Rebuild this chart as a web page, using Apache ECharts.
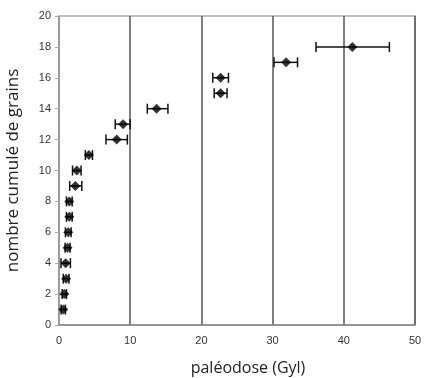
<!DOCTYPE html>
<html>
<head>
<meta charset="utf-8">
<script src="https://cdn.jsdelivr.net/npm/echarts@6/dist/echarts.min.js"></script>
<style>
  html, body { margin: 0; padding: 0; background: #fff; }
  #chart { width: 424px; height: 378px; }
</style>
</head>
<body>
<div id="chart"></div>
<script>
// cumulative grain count (y) vs paleodose (x), with error bounds
const grains = [1, 2, 3, 4, 5, 6, 7, 8, 9, 10, 11, 12, 13, 14, 15, 16, 17, 18];
const dose   = [0.6, 0.75, 1.0, 0.93, 1.2, 1.3, 1.45, 1.45, 2.3, 2.5, 4.2, 8.1, 9.0, 13.7, 22.7, 22.7, 31.9, 41.2];
const doseLo = [0.3, 0.45, 0.6, 0.28, 0.85, 0.9, 1.05, 1.05, 1.5, 1.9, 3.7, 6.6, 7.9, 12.4, 21.8, 21.6, 30.2, 36.1];
const doseHi = [0.9, 1.05, 1.4, 1.6, 1.55, 1.7, 1.85, 1.85, 3.2, 3.1, 4.7, 9.6, 10.0, 15.3, 23.6, 23.8, 33.5, 46.4];
const xTicks = [0, 10, 20, 30, 40, 50];
const yTicks = [0, 2, 4, 6, 8, 10, 12, 14, 16, 18, 20];

const chart = echarts.init(document.getElementById('chart'));

const points = grains.map((g, i) => [dose[i], g]);
const bars = grains.map((g, i) => [dose[i], g, doseLo[i], doseHi[i]]);

const fontFam = 'Liberation Sans, Arial, sans-serif';

const option = {
    animation: false,
    backgroundColor: '#fff',
    grid: {
        left: 59, right: 9, top: 16, bottom: 53,
        containLabel: false,
        outerBoundsMode: 'none',
        show: true,
        borderColor: '#aaa',
        borderWidth: 1.5,
        backgroundColor: 'transparent'
    },
    xAxis: {
        type: 'value',
        min: xTicks[0],
        max: xTicks[xTicks.length - 1],
        interval: 10,
        name: 'paléodose (Gyl)',
        nameLocation: 'middle',
        nameGap: 35,
        nameTextStyle: { fontFamily: 'Open Sans, Noto Sans, sans-serif', fontSize: 16, color: '#222', padding: [0, 0, 0, 22] },
        axisLine: { lineStyle: { color: '#888', width: 1.5 } },
        axisTick: { show: false },
        axisLabel: { fontFamily: fontFam, fontSize: 11, color: '#333', margin: 10 },
        splitLine: { show: true, lineStyle: { color: '#555', width: 1.5 } }
    },
    yAxis: {
        type: 'value',
        min: yTicks[0],
        max: yTicks[yTicks.length - 1],
        interval: 2,
        name: 'nombre cumulé de grains',
        nameLocation: 'middle',
        nameGap: 37,
        nameTextStyle: { fontFamily: 'Open Sans, Noto Sans, sans-serif', fontSize: 17, color: '#222' },
        axisLine: { show: true, lineStyle: { color: '#aaa', width: 1.5 } },
        axisTick: { show: true, length: 4, lineStyle: { color: '#aaa' } },
        axisLabel: { fontFamily: fontFam, fontSize: 11, color: '#333', margin: 8 },
        splitLine: { show: false }
    },
    series: [
        {
            type: 'custom',
            data: bars,
            encode: { x: [0, 2, 3], y: 1 },
            z: 3,
            renderItem: function (params, api) {
                const y = api.value(1);
                const lo = api.coord([api.value(2), y]);
                const hi = api.coord([api.value(3), y]);
                const cap = 5;
                const st = { stroke: '#111', lineWidth: 1.5 };
                return {
                    type: 'group',
                    children: [
                        { type: 'line', shape: { x1: lo[0], y1: lo[1], x2: hi[0], y2: hi[1] }, style: st },
                        { type: 'line', shape: { x1: lo[0], y1: lo[1] - cap, x2: lo[0], y2: lo[1] + cap }, style: st },
                        { type: 'line', shape: { x1: hi[0], y1: hi[1] - cap, x2: hi[0], y2: hi[1] + cap }, style: st }
                    ]
                };
            }
        },
        {
            type: 'scatter',
            data: points,
            symbol: 'diamond',
            symbolSize: [10, 10],
            z: 4,
            itemStyle: { color: '#000' }
        }
    ]
};

chart.setOption(option);
</script>
</body>
</html>
